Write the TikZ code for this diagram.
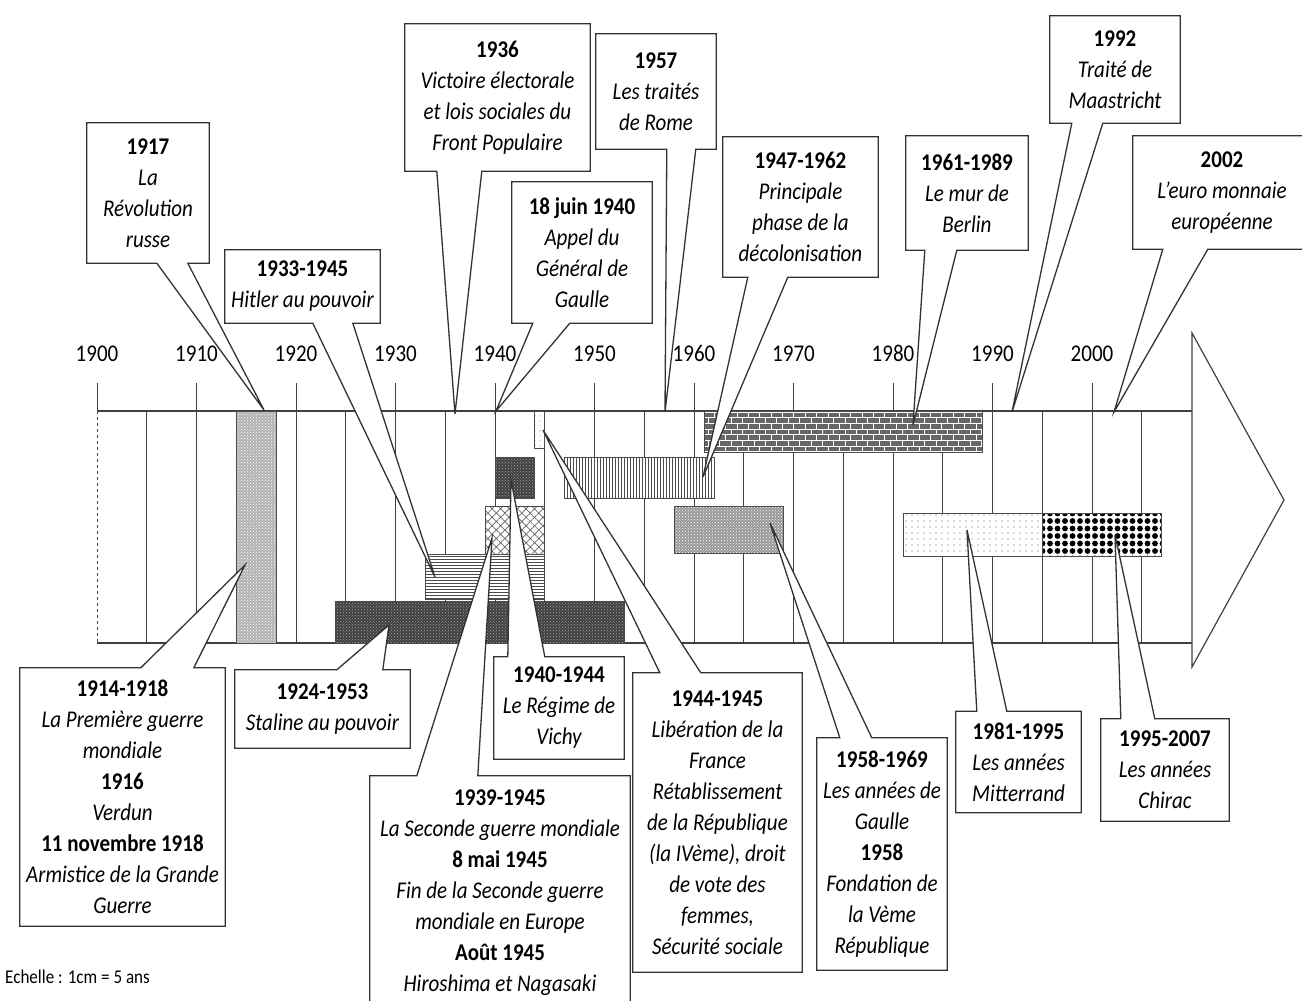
\documentclass[tikz,border=0pt]{standalone}
\usepackage{fontspec}
\setmainfont{Carlito}[FakeStretch=0.875]
\usetikzlibrary{patterns,patterns.meta}
\pgfdeclarelayer{gridlayer}
\pgfdeclarelayer{colayer}
\pgfsetlayers{gridlayer,colayer,main}
\newcommand\yrb[1]{\textbf{\upshape #1}}
% callout with pointer below the box
\newcommand\tcall[4]{\draw[co] (#1.north west) -- (#1.north east) -- (#1.south east) -- ([xshift=#3pt]#1.south west) -- (#4) -- ([xshift=#2pt]#1.south west) -- (#1.south west) -- cycle;}
% callout with pointer above the box
\newcommand\bcall[4]{\draw[co] (#1.south west) -- (#1.south east) -- (#1.north east) -- ([xshift=#3pt]#1.north west) -- (#4) -- ([xshift=#2pt]#1.north west) -- (#1.north west) -- cycle;}
\begin{document}
\begin{tikzpicture}[x=1pt,y=-1pt,
  gridl/.style={draw=black!75, line width=0.9pt},
  axisl/.style={draw=black!75, line width=1.2pt},
  bar/.style={draw=black!70, line width=0.8pt},
  co/.style={draw=black!80, line width=1.3pt, fill=white, line join=miter},
  box/.style={inner sep=0pt, align=center, font=\fontsize{24}{31}\selectfont\itshape},
  yl/.style={font=\fontsize{24}{29}\selectfont, inner sep=0pt, anchor=base}]
\useasboundingbox (0,0) rectangle (1302,1001);

% ---------------- grid, axis, bars
\begin{pgfonlayer}{gridlayer}
\fill[white] (0,0) rectangle (1302,1001);
\foreach \i in {1,...,21} \draw[gridl] ({97+\i*49.75},411) -- ({97+\i*49.75},643);
\foreach \i in {0,...,10} \draw[gridl] ({97+\i*99.5},383) -- ({97+\i*99.5},411);
\draw[gridl, dash pattern=on 3pt off 3pt] (97,411) -- (97,643);
\draw[axisl] (97,411) -- (1192,411);
\draw[axisl] (97,643) -- (1192,643);
\draw[axisl, fill=white] (1192,333) -- (1284,500) -- (1192,667) -- cycle;
% bars
\draw[bar, preaction={fill=black!30}, pattern=crosshatch dots, pattern color=white] (236.3,411) rectangle (276.1,643);
\draw[bar, preaction={fill=black!75}, pattern=crosshatch dots, pattern color=black!35] (335.8,601) rectangle (624.4,643);
\draw[bar, preaction={fill=white}, pattern=horizontal lines, pattern color=black!70] (425.4,554) rectangle (544.8,599);
\draw[bar, preaction={fill=white}, pattern={Hatch[angle=45,distance=6pt,line width=0.7pt]}, pattern color=black!60] (485,506) rectangle (544.8,554);
\draw[bar, preaction={fill=black!75}, pattern=crosshatch dots, pattern color=black!35] (495,457) rectangle (534.8,498);
\draw[bar, preaction={fill=white}, pattern={Dots[radius=0.5pt,distance=5pt]}, pattern color=black!60] (534.8,411) rectangle (544.8,448);
\draw[bar, preaction={fill=white}, pattern=vertical lines, pattern color=black!70] (564.7,457) rectangle (713.9,498);
\draw[bar, preaction={fill=black!40}, pattern=crosshatch dots, pattern color=white] (674.1,506) rectangle (783.6,553);
\draw[bar, preaction={fill=black!60}, pattern=bricks, pattern color=white] (704,411) rectangle (982.6,452);
\draw[bar, preaction={fill=white}, pattern={Dots[radius=0.7pt,distance=6pt]}, pattern color=black!60] (903,513) rectangle (1042.3,556);
\draw[bar, preaction={fill=white}, pattern={Dots[radius=2.9pt,distance=7.5pt]}, pattern color=black] (1042.3,513) rectangle (1161.7,556);
\end{pgfonlayer}

% ---------------- year labels
\foreach \i [evaluate=\i as \yr using int(1900+10*\i)] in {0,...,10}
  \node[yl] (yr\i) at ({97+\i*99.5},361.5) {\yr};

% ---------------- pointer tips
\coordinate (t1917) at (264,410);
\coordinate (t1933) at (435,577);
\coordinate (t1936) at (455,414);
\coordinate (t1940) at (496,411);
\coordinate (t1957) at (665,412);
\coordinate (t1947) at (703,477);
\coordinate (t1961) at (913,425);
\coordinate (t1992) at (1012,412);
\coordinate (t2002) at (1114,412);
\coordinate (t1914) at (245,565);
\coordinate (t1924) at (389,625);
\coordinate (tvichy) at (511,480);
\coordinate (t1939) at (492,538);
\coordinate (t1944) at (543,430);
\coordinate (t1958) at (770,523);
\coordinate (t1981) at (967,530);
\coordinate (t1995) at (1115,535);

% ---------------- callout texts (top)
\node[box, minimum width=122pt, minimum height=140pt] (c1917) at (148,193) {\yrb{1917}\\La\\Révolution\\russe};
\node[box, minimum width=155pt, minimum height=73pt] (c1933) at (302.5,286.5) {\yrb{1933-1945}\\Hitler au pouvoir};
\node[box, minimum width=185pt, minimum height=147pt] (c1936) at (497.5,97.5) {\yrb{1936}\\Victoire électorale\\et lois sociales du\\Front Populaire};
\node[box, minimum width=140pt, minimum height=141pt] (c1940) at (582,252.5) {\yrb{18 juin 1940}\\Appel du\\Général de\\Gaulle};
\node[box, minimum width=120pt, minimum height=115pt] (c1957) at (656,91.5) {\yrb{1957}\\Les traités\\de Rome};
\node[box, minimum width=155pt, minimum height=140pt] (c1947) at (800.5,207) {\yrb{1947-1962}\\Principale\\phase de la\\décolonisation};
\node[box, minimum width=122pt, minimum height=114pt] (c1961) at (967,193) {\yrb{1961-1989}\\Le mur de\\Berlin};
\node[box, minimum width=130pt, minimum height=107pt] (c1992) at (1115,69.5) {\yrb{1992}\\Traité de\\Maastricht};
\node[box, minimum width=178pt, minimum height=113pt] (c2002) at (1222,192.5) {\yrb{2002}\\L’euro monnaie\\européenne};

% ---------------- callout texts (bottom)
\node[box, minimum width=205pt, minimum height=258pt] (c1914) at (122.5,797) {\yrb{1914-1918}\\La Première guerre\\mondiale\\\yrb{1916}\\Verdun\\\yrb{11 novembre 1918}\\Armistice de la Grande\\Guerre};
\node[box, minimum width=175pt, minimum height=78pt] (c1924) at (322.5,709) {\yrb{1924-1953}\\Staline au pouvoir};
\node[box, minimum width=130pt, minimum height=102pt] (cvichy) at (559,708) {\yrb{1940-1944}\\Le Régime de\\Vichy};
\node[box, minimum width=260pt, minimum height=234pt] (c1939) at (500,893) {\yrb{1939-1945}\\La Seconde guerre mondiale\\\yrb{8 mai 1945}\\Fin de la Seconde guerre\\mondiale en Europe\\\yrb{Août 1945}\\Hiroshima et Nagasaki};
\node[box, minimum width=169pt, minimum height=299pt] (c1944) at (717.5,822.5) {\yrb{1944-1945}\\Libération de la\\France\\Rétablissement\\de la République\\(la IVème), droit\\de vote des\\femmes,\\Sécurité sociale};
\node[box, minimum width=130pt, minimum height=232pt] (c1958) at (882,854) {\yrb{1958-1969}\\Les années de\\Gaulle\\\yrb{1958}\\Fondation de\\la Vème\\République};
\node[box, minimum width=125pt, minimum height=101pt] (c1981) at (1018.5,762) {\yrb{1981-1995}\\Les années\\Mitterrand};
\node[box, minimum width=128pt, minimum height=102pt] (c1995) at (1165,770) {\yrb{1995-2007}\\Les années\\Chirac};

\node[font=\fontsize{19.5}{22}\selectfont, anchor=west, inner sep=0pt] (echelle) at (5,977) {Echelle : 1cm = 5 ans};

% ---------------- callout outlines with pointers
\begin{pgfonlayer}{colayer}
\tcall{c1917}{70}{101}{t1917}
\tcall{c1933}{88}{128}{t1933}
\tcall{c1936}{32}{77}{t1936}
\tcall{c1940}{21}{58}{t1940}
\tcall{c1957}{71}{100}{t1957}
\tcall{c1947}{25}{65}{t1947}
\tcall{c1961}{19}{51}{t1961}
\tcall{c1992}{22}{53}{t1992}
\tcall{c2002}{30}{75}{t2002}
\bcall{c1914}{121}{174}{t1914}
\bcall{c1924}{102}{148}{t1924}
\bcall{c1939}{47}{108}{t1939}
\bcall{cvichy}{14}{51}{tvichy}
\bcall{c1944}{27}{68}{t1944}
\bcall{c1958}{23}{55}{t1958}
\bcall{c1981}{21}{51}{t1981}
\bcall{c1995}{20}{54}{t1995}
\end{pgfonlayer}
\end{tikzpicture}
\end{document}
